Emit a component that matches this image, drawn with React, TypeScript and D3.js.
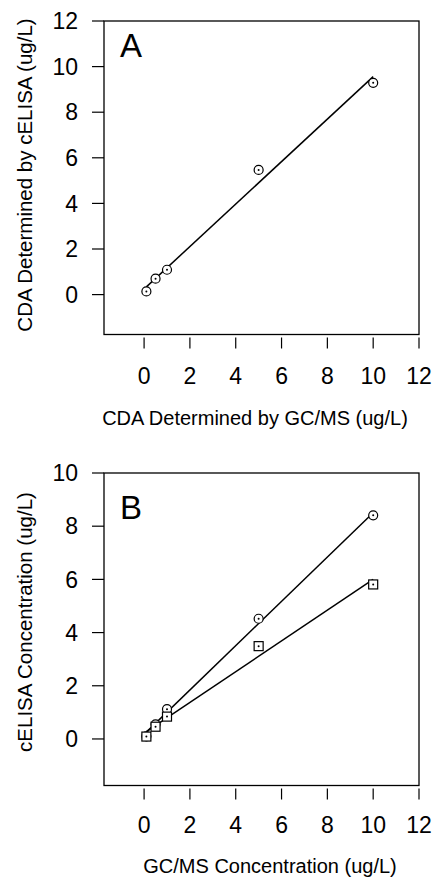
import React from 'react';
import * as d3 from 'd3';

// values
const gcms = [0.1, 0.5, 1, 5, 10];
const elisaA = [0.14, 0.7, 1.09, 5.47, 9.29];
const elisaB1 = [0.1, 0.55, 1.12, 4.52, 8.41]; // circles
const elisaB2 = [0.09, 0.46, 0.84, 3.49, 5.81]; // squares

const xTicks = [0, 2, 4, 6, 8, 10, 12];
const yTicksA = [0, 2, 4, 6, 8, 10, 12];
const yTicksB = [0, 2, 4, 6, 8, 10];

const FONT = 'Arial, "Liberation Sans", Helvetica, sans-serif';

type Series = {x: number[]; y: number[]; shape: 'circle' | 'square'};

// least squares fit
const fit = (xs: number[], ys: number[]) => {
    const mx = d3.mean(xs)!;
    const my = d3.mean(ys)!;
    const sxy = d3.sum(xs, (x, i) => (x - mx) * (ys[i] - my));
    const sxx = d3.sum(xs, x => (x - mx) ** 2);
    const b = sxy / sxx;
    return {a: my - b * mx, b};
};

const Panel = ({top, bottom, yMax, yTicks, series, letter, letterY, xTitle, xTitleX, xTitleY, yTitle, yTitleY, xLabelY}: {
    top: number; bottom: number; yMax: number; yTicks: number[]; series: Series[]; letter: string; letterY: number;
    xTitle: string; xTitleX: number; xTitleY: number; yTitle: string; yTitleY: number; xLabelY: number;
}) => {
    const left = 104, right = 419;
    const x = d3.scaleLinear().domain([-1.75, 12]).range([left, right]);
    const y = d3.scaleLinear().domain([-1.75, yMax]).range([bottom, top]);
    const line = d3.line<[number, number]>().x(d => x(d[0])).y(d => y(d[1]));

    return (
        <g>
            <rect x={left} y={top} width={right - left} height={bottom - top} fill="none" stroke="#000" strokeWidth={1.3}/>
            {yTicks.map(t => (
                <g key={'y' + t}>
                    <line x1={left - 12} x2={left} y1={y(t)} y2={y(t)} stroke="#000" strokeWidth={1.2}/>
                    <text x={78} y={y(t)} dy="0.36em" textAnchor="end" fontSize={23} fontFamily={FONT}>{t}</text>
                </g>
            ))}
            {xTicks.map(t => (
                <g key={'x' + t}>
                    <line x1={x(t)} x2={x(t)} y1={bottom + 3} y2={bottom + 14} stroke="#000" strokeWidth={1.2}/>
                    <text x={x(t)} y={xLabelY} textAnchor="middle" fontSize={23} fontFamily={FONT}>{t}</text>
                </g>
            ))}
            {series.map((s, i) => {
                const {a, b} = fit(s.x, s.y);
                const x0 = d3.min(s.x)!, x1 = d3.max(s.x)!;
                return <path key={'f' + i} d={line([[x0, a + b * x0], [x1, a + b * x1]])!} fill="none" stroke="#000" strokeWidth={1.5}/>;
            })}
            {series.map((s, i) => s.x.map((v, j) => {
                const cx = x(v), cy = y(s.y[j]);
                return (
                    <g key={`m${i}-${j}`}>
                        {s.shape === 'circle'
                            ? <circle cx={cx} cy={cy} r={4.5} fill="#fff" stroke="#000" strokeWidth={1.2}/>
                            : <rect x={cx - 4.5} y={cy - 4.5} width={9} height={9} fill="#fff" stroke="#000" strokeWidth={1.2}/>}
                        <circle cx={cx} cy={cy} r={1} fill="#000"/>
                    </g>
                );
            }))}
            <text x={120} y={letterY} fontSize={33} fontFamily={FONT}>{letter}</text>
            <text x={xTitleX} y={xTitleY} textAnchor="middle" fontSize={20} fontFamily={FONT}>{xTitle}</text>
            <text transform={`translate(32,${yTitleY}) rotate(-90)`} textAnchor="middle" fontSize={20.5} fontFamily={FONT}>{yTitle}</text>
        </g>
    );
};

const App = () => (
    <svg width={432} height={878} style={{position: 'absolute', left: 0, top: 0, background: '#fff'}}>
        <Panel top={21} bottom={334.5} yMax={12} yTicks={yTicksA}
               series={[{x: gcms, y: elisaA, shape: 'circle'}]}
               letter="A" letterY={57}
               xTitle="CDA Determined by GC/MS (ug/L)" xTitleX={255} xTitleY={425} xLabelY={384}
               yTitle="CDA Determined by cELISA (ug/L)" yTitleY={175}/>
        <Panel top={473} bottom={785.5} yMax={10} yTicks={yTicksB}
               series={[{x: gcms, y: elisaB1, shape: 'circle'}, {x: gcms, y: elisaB2, shape: 'square'}]}
               letter="B" letterY={519}
               xTitle="GC/MS Concentration (ug/L)" xTitleX={270} xTitleY={873} xLabelY={833}
               yTitle="cELISA Concentration (ug/L)" yTitleY={622}/>
    </svg>
);

export default App;
